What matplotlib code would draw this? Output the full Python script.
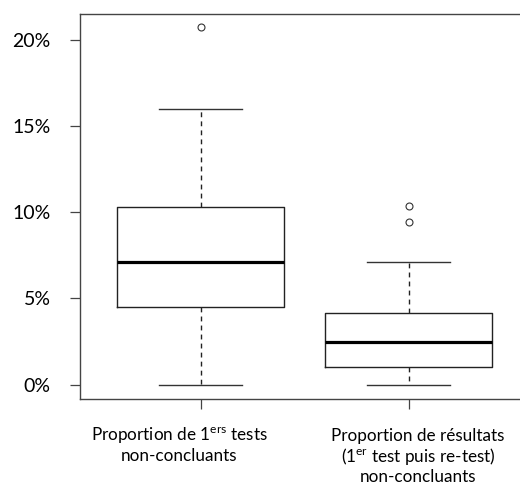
#!/usr/bin/env python3

import matplotlib
matplotlib.use('Agg')
import matplotlib.pyplot as plt
from matplotlib.ticker import FuncFormatter

plt.rcParams['font.family'] = ['Lato', 'DejaVu Sans']
plt.rcParams['mathtext.fontset'] = 'custom'
plt.rcParams['mathtext.rm'] = 'Lato'
plt.rcParams['mathtext.it'] = 'Lato'

# box statistics (percent)
labels = ['Proportion de 1$^{\\mathrm{ers}}$ tests\nnon-concluants',
          'Proportion de résultats\n(1$^{\\mathrm{er}}$ test puis re-test)\nnon-concluants']
whislo = [0.0, 0.0]
q1 = [4.49, 1.0]
med = [7.14, 2.49]
q3 = [10.30, 4.17]
whishi = [16.0, 7.10]
fliers = [[20.75], [9.41, 10.38]]
yticks = [0, 5, 10, 15, 20]

stats = []
for i in range(len(labels)):
    stats.append(dict(whislo=whislo[i], q1=q1[i], med=med[i], q3=q3[i],
                      whishi=whishi[i], fliers=fliers[i]))

fig = plt.figure(figsize=(5.2, 4.86), dpi=100)
ax = fig.add_axes([80/520, 1 - 399/486, 449.3/520, 385/486])

ax.bxp(stats, positions=[1, 2], widths=0.8, showfliers=True,
       boxprops=dict(color='#222222', lw=1.0),
       medianprops=dict(color='black', lw=2.3, solid_capstyle='butt'),
       whiskerprops=dict(color='#222222', lw=1.0, linestyle=(0, (3.5, 3))),
       capprops=dict(color='#333333', lw=1.0),
       capwidths=0.4,
       flierprops=dict(marker='o', markersize=5, markerfacecolor='none',
                       markeredgecolor='#333333', markeredgewidth=0.8))

ax.set_xlim(0.42, 2.58)
ax.set_ylim(-0.835, 21.5)
ax.set_yticks(yticks)
ax.yaxis.set_major_formatter(FuncFormatter(lambda v, p: '%d%%' % v))
ax.set_xticks([1, 2])
ax.set_xticklabels(['', ''])

for s in ['left', 'top', 'bottom']:
    ax.spines[s].set_color('#444444')
    ax.spines[s].set_linewidth(1.0)
ax.spines['right'].set_visible(False)

ax.tick_params(axis='y', length=7.2, width=0.9, color='#444444', pad=14,
               labelsize=14)
ax.tick_params(axis='x', length=7.2, width=0.9, color='#444444')

# category labels sit a little off their ticks in the original
offsets = [(-15.5, -19), (6.8, -21)]
spacing = [1.2, 1.12]
for i, lab in enumerate(labels):
    ax.annotate(lab, xy=(i + 1, 0), xycoords=('data', 'axes fraction'),
                xytext=offsets[i], textcoords='offset points',
                ha='center', va='top', fontsize=12.3, linespacing=spacing[i],
                multialignment='center', annotation_clip=False)

fig.savefig('out.png', dpi=100)
